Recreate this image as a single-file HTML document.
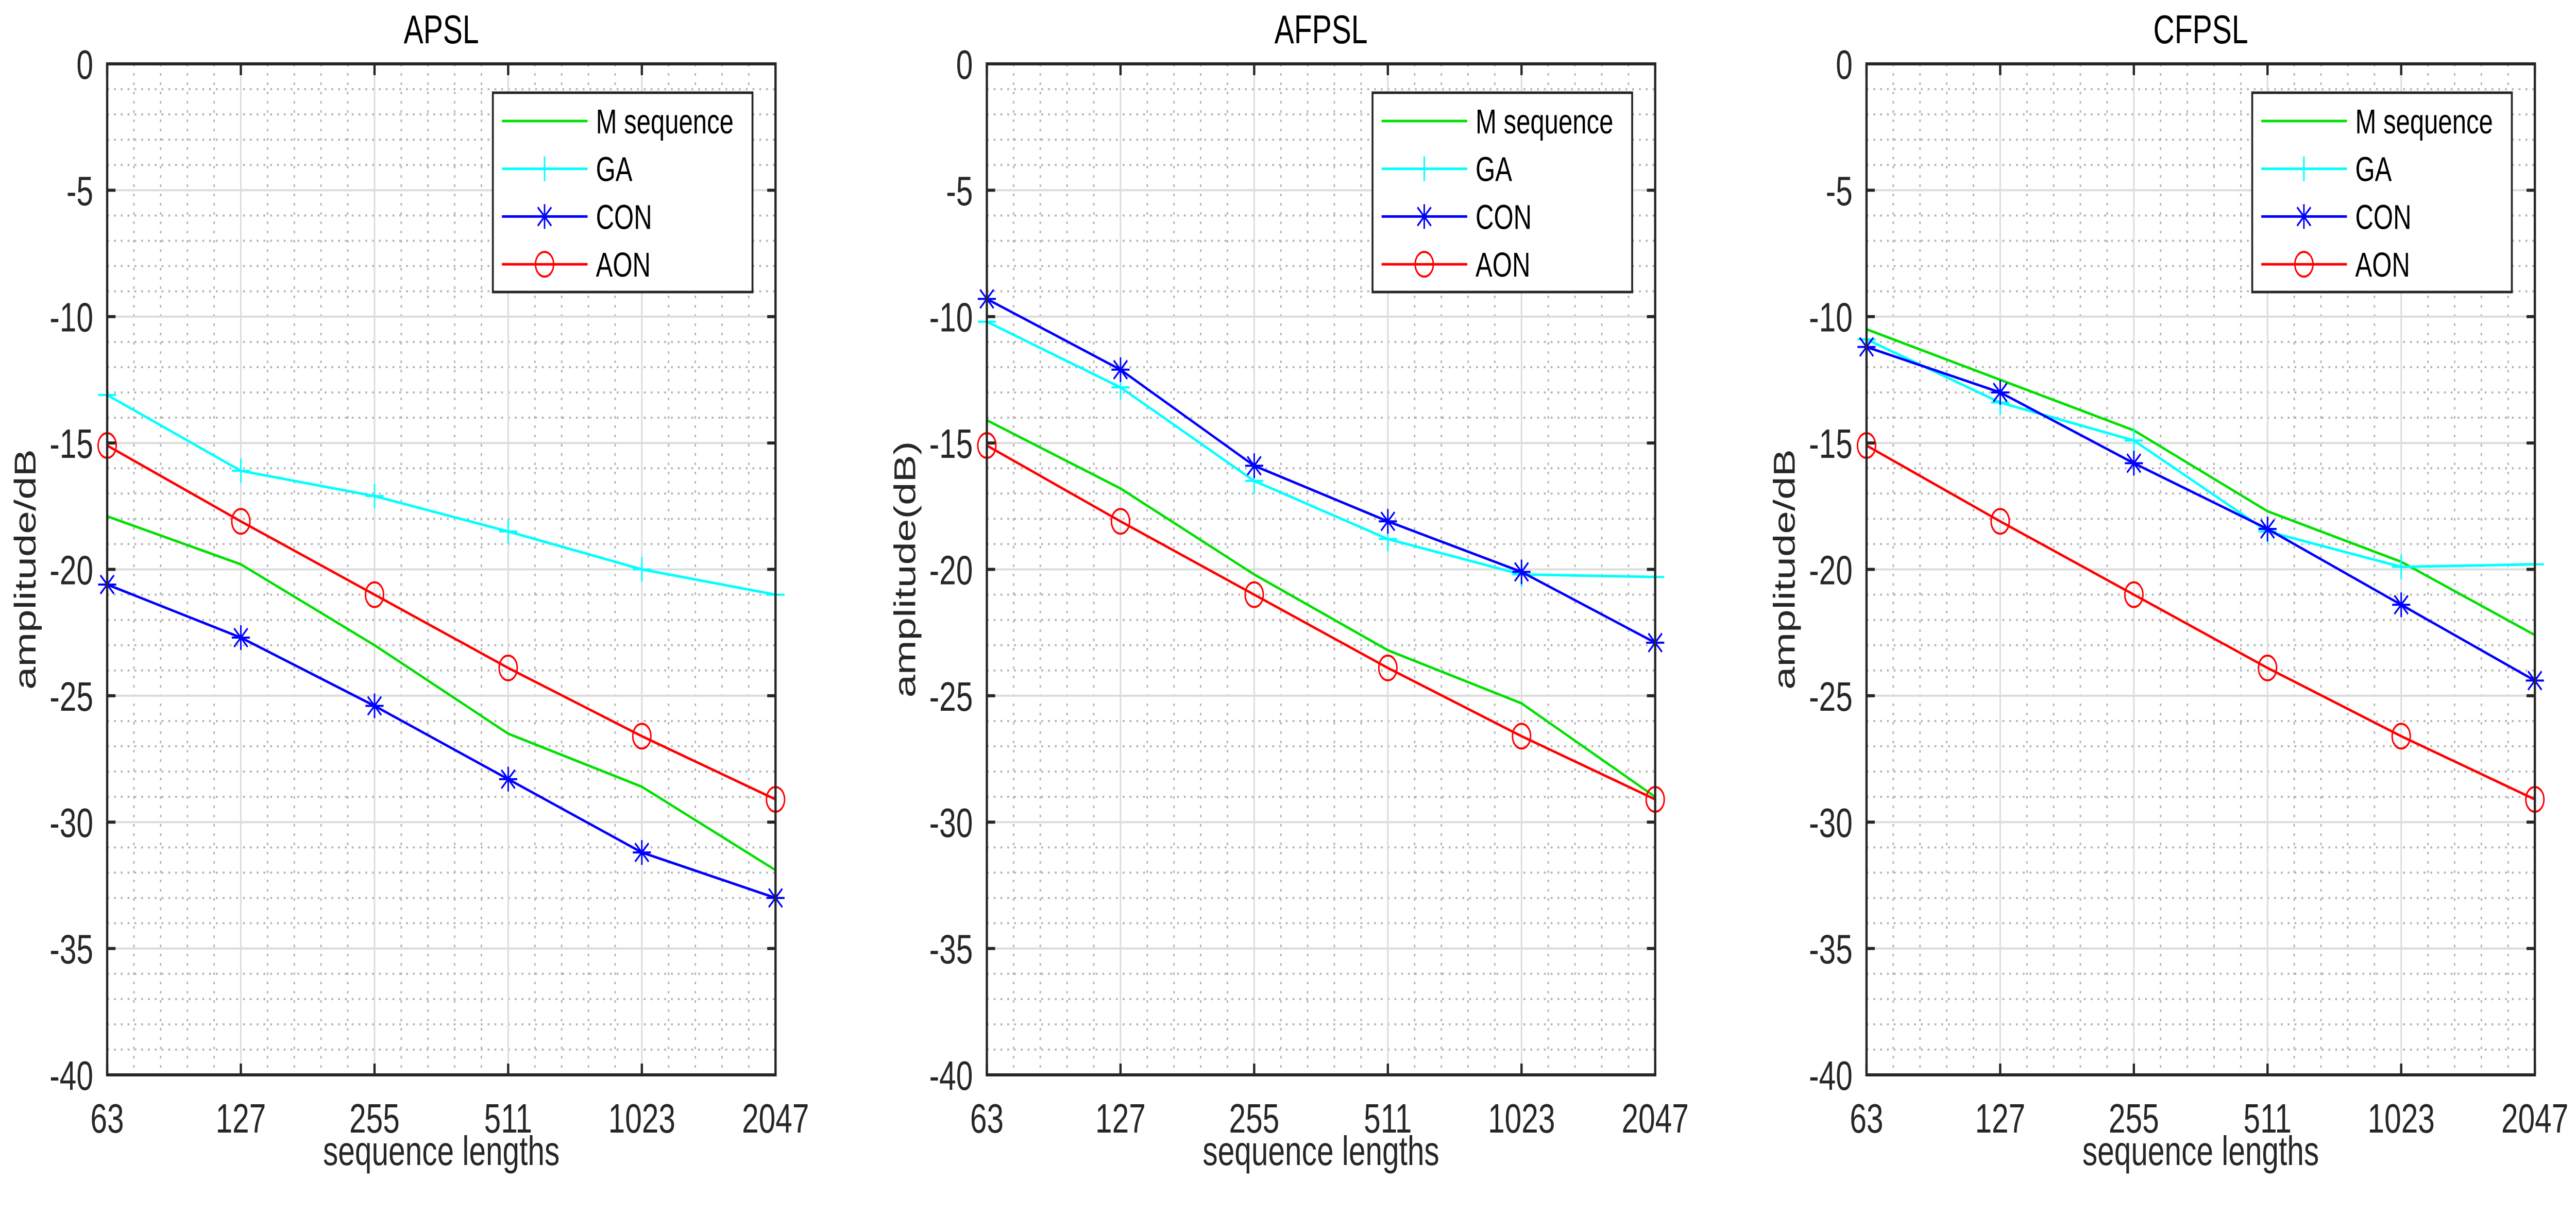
<!DOCTYPE html>
<html><head><meta charset="utf-8">
<meta name="viewport" content="width=6826, initial-scale=1">
<style>
html,body{margin:0;padding:0;background:#fff;width:100%;height:100%;overflow:hidden;}
svg{display:block;position:fixed;left:0;top:0;width:100vw;height:100vh;font-family:"Liberation Sans",Arial,sans-serif;}
</style></head>
<body>
<svg id="chart" viewBox="0 0 6826 2361" preserveAspectRatio="none" xmlns="http://www.w3.org/2000/svg"></svg>
<script>
const categories = ["63","127","255","511","1023","2047"];
const yTicks = [0,-5,-10,-15,-20,-25,-30,-35,-40];
const panelTitles = ["APSL","AFPSL","CFPSL"];
const panelYLabels = ["amplitude/dB","amplitude(dB)","amplitude/dB"];
const seriesNames = ["M sequence","GA","CON","AON"];
const apslM   = [-17.9,-19.8,-23.0,-26.5,-28.6,-31.9];
const apslGA  = [-13.1,-16.1,-17.1,-18.5,-20.0,-21.0];
const apslCON = [-20.6,-22.7,-25.4,-28.3,-31.2,-33.0];
const apslAON = [-15.1,-18.1,-21.0,-23.9,-26.6,-29.1];
const afpslM   = [-14.1,-16.8,-20.2,-23.2,-25.3,-29.0];
const afpslGA  = [-10.2,-12.8,-16.5,-18.8,-20.2,-20.3];
const afpslCON = [-9.3,-12.1,-15.9,-18.1,-20.1,-22.9];
const afpslAON = [-15.1,-18.1,-21.0,-23.9,-26.6,-29.1];
const cfpslM   = [-10.5,-12.5,-14.5,-17.7,-19.7,-22.6];
const cfpslGA  = [-10.9,-13.4,-14.9,-18.5,-19.9,-19.8];
const cfpslCON = [-11.2,-13.0,-15.8,-18.4,-21.4,-24.4];
const cfpslAON = [-15.1,-18.1,-21.0,-23.9,-26.6,-29.1];

const NS="http://www.w3.org/2000/svg";
const svg=document.getElementById('chart');
const panelData=[[apslM,apslGA,apslCON,apslAON],[afpslM,afpslGA,afpslCON,afpslAON],[cfpslM,cfpslGA,cfpslCON,cfpslAON]];
const colors=["#00e000","#00ffff","#0000ff","#ff0000"];
const markers=["none","plus","star","circle"];
const lefts=[284,2615,4946];
const W=1771, TOP=124, BOT=2087, YMIN=-40, YMAX=0;

function mk(tag,attrs,parent){const e=document.createElementNS(NS,tag);for(const k in attrs)e.setAttribute(k,attrs[k]);(parent||svg).appendChild(e);return e;}

function drawMarker(g,type,x,y,c){
  const r=24;
  if(type==="plus"){
    mk('line',{x1:x-r,y1:y,x2:x+r,y2:y,stroke:c,'stroke-width':4},g);
    mk('line',{x1:x,y1:y-r,x2:x,y2:y+r,stroke:c,'stroke-width':4},g);
  } else if(type==="star"){
    mk('line',{x1:x-r,y1:y,x2:x+r,y2:y,stroke:c,'stroke-width':4},g);
    mk('line',{x1:x,y1:y-r,x2:x,y2:y+r,stroke:c,'stroke-width':4},g);
    const d=r*0.75;
    mk('line',{x1:x-d,y1:y-d,x2:x+d,y2:y+d,stroke:c,'stroke-width':4},g);
    mk('line',{x1:x-d,y1:y+d,x2:x+d,y2:y-d,stroke:c,'stroke-width':4},g);
  } else if(type==="circle"){
    mk('circle',{cx:x,cy:y,r:r,fill:'none',stroke:c,'stroke-width':4},g);
  }
}

panelData.forEach((series,p)=>{
  const L=lefts[p], R=L+W;
  const xs=i=>L+i*W/(categories.length-1);
  const ys=v=>TOP+(YMAX-v)/(YMAX-YMIN)*(BOT-TOP);
  const g=mk('g',{});
  
  
  const mg=mk('g',{stroke:'#b4b4b4','stroke-width':4,'stroke-dasharray':'5 13'},g);
  
  
  for(let v=YMAX-1;v>YMIN;v--){ if(v%5!==0) mk('line',{x1:L,y1:ys(v),x2:R,y2:ys(v)},mg); }
  for(let i=0;i<categories.length-1;i++){ for(let k=1;k<5;k++){const x=xs(i)+k*W/(categories.length-1)/5; mk('line',{x1:x,y1:TOP,x2:x,y2:BOT},mg);} }
  const jg=mk('g',{stroke:'#dcdcdc','stroke-width':4},g);
  
  
  yTicks.forEach(v=>mk('line',{x1:L,y1:ys(v),x2:R,y2:ys(v)},jg));
  categories.forEach((c,i)=>mk('line',{x1:xs(i),y1:TOP,x2:xs(i),y2:BOT},jg));
  series.forEach((vals,s)=>{
    const sg=mk('g',{},g);
    
    
    mk('polyline',{points:vals.map((v,i)=>xs(i)+','+ys(v)).join(' '),fill:'none',stroke:colors[s],'stroke-width':5},sg);
    vals.forEach((v,i)=>drawMarker(sg,markers[s],xs(i),ys(v),colors[s]));
  });
  const ax=mk('g',{stroke:'#262626','stroke-width':6,fill:'none'},g);
  
  
  mk('rect',{x:L,y:TOP,width:W,height:BOT-TOP},ax);
  yTicks.forEach(v=>{mk('line',{x1:L,y1:ys(v),x2:L+22,y2:ys(v)},ax);mk('line',{x1:R,y1:ys(v),x2:R-22,y2:ys(v)},ax);});
  categories.forEach((c,i)=>{mk('line',{x1:xs(i),y1:BOT,x2:xs(i),y2:BOT-22},ax);mk('line',{x1:xs(i),y1:TOP,x2:xs(i),y2:TOP+22},ax);});
  yTicks.forEach(v=>{const t=mk('text',{x:L-37,y:ys(v)+29,'text-anchor':'end','font-size':80,fill:'#262626'},g);t.textContent=String(v);
    
    });
  categories.forEach((c,i)=>{const t=mk('text',{x:xs(i),y:2199,'text-anchor':'middle','font-size':80,fill:'#262626'},g);t.textContent=c;
    
    });
  const tt=mk('text',{x:L+W/2,y:84,'text-anchor':'middle','font-size':78,fill:'#000'},g);tt.textContent=panelTitles[p];
  
  
  const xl=mk('text',{x:L+W/2,y:2262,'text-anchor':'middle','font-size':80,fill:'#262626'},g);xl.textContent="sequence lengths";
  
  
  const yx=L-190, yy=(TOP+BOT)/2;
  const yl=mk('text',{x:yx,y:yy,'text-anchor':'middle','font-size':80,fill:'#262626',transform:'rotate(-90 '+yx+' '+yy+')'},g);yl.textContent=panelYLabels[p];
  
  
  const lg=mk('g',{},g);
  
  
  const lx=L+1022, ly=180;
  mk('rect',{x:lx,y:ly,width:688,height:387,fill:'#fff',stroke:'#262626','stroke-width':5},lg);
  seriesNames.forEach((n,s)=>{
    const ey=235+s*92.7;
    const eg=mk('g',{},lg);
    
    
    mk('line',{x1:lx+24,y1:ey,x2:lx+251,y2:ey,stroke:colors[s],'stroke-width':5},eg);
    drawMarker(eg,markers[s],lx+137,ey,colors[s]);
    const t=mk('text',{x:lx+273,y:ey+24,'font-size':67,fill:'#000'},eg);t.textContent=n;
  });
});
</script>
</body></html>
